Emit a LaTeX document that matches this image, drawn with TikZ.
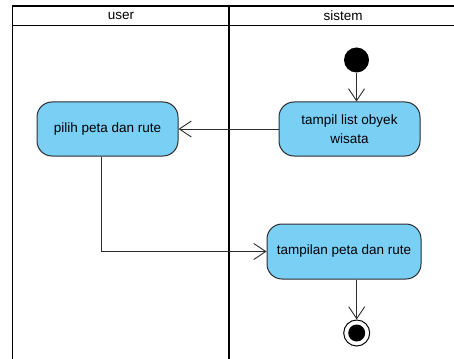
\documentclass[tikz,border=0pt]{standalone}
\usepackage{fontspec}
\setmainfont{Liberation Sans}
\usetikzlibrary{arrows.meta}
\definecolor{isiaksi}{RGB}{122,207,245}
\definecolor{garisaksi}{RGB}{45,45,45}

\begin{document}
\begin{tikzpicture}[x=1pt,y=-1pt,
    aksi/.style={draw=garisaksi,fill=isiaksi,rounded corners=15pt,line width=1pt,
        minimum height=54pt,inner sep=2pt,align=center,
        font=\fontsize{13.5}{19.5}\selectfont},
    judul/.style={font=\fontsize{13.5}{16}\selectfont},
    alur/.style={draw=garisaksi,line width=0.9pt,-{Straight Barb[length=12pt,width=16pt,line width=0.9pt]}}]
        \useasboundingbox (0,0) rectangle (454,358);
        \draw[line width=1.8pt] (12.5,370) -- (12.5,6) -- (470,6);
        \draw[line width=1.8pt] (12.5,25.5) -- (470,25.5);
        \draw[line width=2.2pt] (229,6) -- (229,370);
        \node[judul] (lajuruser) at (121,16) {user};
        \node[judul] (lajursistem) at (343,16) {sistem};
        \node[circle,fill=black,minimum size=25pt,inner sep=0pt] (mulai) at (356.5,60) {};
        \node[aksi,minimum width=141pt] (tampil) at (349.5,129) {tampil list obyek\\wisata};
        \node[aksi,minimum width=141pt] (pilih) at (107.5,129) {pilih peta dan rute};
        \node[aksi,minimum width=154pt,minimum height=55pt] (tampilan) at (344,251.5) {tampilan peta dan rute};
        \node[circle,draw=black,line width=1pt,minimum size=26pt,inner sep=0pt] (selesai) at (356.7,333) {};
        \fill (selesai) circle (8.5pt);
        \draw[alur] (mulai) -- (mulai |- tampil.north);
        \draw[alur] (tampil) -- (pilih);
        \draw[alur] ([xshift=-6.5pt]pilih.south) |- (tampilan);
        \draw[alur] (tampilan.south -| selesai) -- (selesai);
    \end{tikzpicture}
\end{document}
